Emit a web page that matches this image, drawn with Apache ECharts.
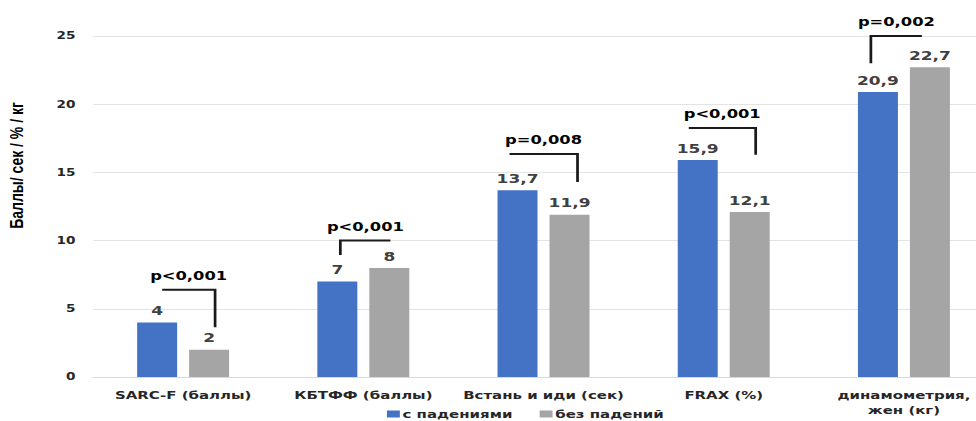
<!DOCTYPE html>
<html>
<head>
<meta charset="utf-8">
<script src="https://cdn.jsdelivr.net/npm/echarts@6/dist/echarts.min.js"></script>
<style>
  html, body { margin: 0; padding: 0; background: #fff; overflow: hidden; }
  #wrap { width: 976px; height: 421px; overflow: hidden; }
  /* the chart is laid out narrow and stretched horizontally */
  #chart { width: 731px; height: 421px; transform: scaleX(1.36); transform-origin: 0 0; }
</style>
</head>
<body>
<div id="wrap"><div id="chart"></div></div>
<script>
// Measures and group means
const categories = ['SARC-F (баллы)', 'КБТФФ (баллы)', 'Встань и иди (сек)', 'FRAX (%)', 'динамометрия,\nжен (кг)'];
const withFalls = [4, 7, 13.7, 15.9, 20.9];
const withoutFalls = [2, 8, 11.9, 12.1, 22.7];
const seriesNames = ['с падениями', 'без падений'];
const yTicks = { min: 0, max: 25, interval: 5 };

// Significance brackets: p label, level of the horizontal line, end of the tick, tick side
const pLabels = ['p<0,001', 'p<0,001', 'p=0,008', 'p<0,001', 'p=0,002'];
const bracketLevel = [6.4, 10.0, 16.35, 18.25, 25.0];
const bracketEnd = [3.65, 8.95, 14.3, 16.3, 23.0];
const tickSide = ['right', 'left', 'right', 'right', 'left'];

// horizontal extent of each bracket relative to the category centre (px, before stretching)
const bracketSpan = [[-15.4, 23.5], [-16.9, 19.9], [-25, 25], [-25.7, 23.5], [-24.3, 13.2]];

const fmt = v => String(v).replace('.', ',');
const FONT = '"DejaVu Sans", Verdana, sans-serif';

const chart = echarts.init(document.getElementById('chart'), null, { renderer: 'svg' });

const bracketData = categories.map((c, i) => [i, bracketLevel[i], bracketEnd[i]]);

const valueLabel = {
  show: true, position: 'top', distance: 5,
  formatter: p => fmt(p.value),
  fontFamily: FONT, fontWeight: 'bold', fontSize: 12.5, color: '#404040'
};

chart.setOption({
  animation: false,
  textStyle: { fontFamily: FONT },
  grid: { left: 68.4, top: 36, width: 662.5, height: 341 },
  legend: {
    data: seriesNames,
    top: 408,
    left: 284.5,
    padding: 0,
    icon: 'rect',
    itemWidth: 9.5,
    itemHeight: 7,
    itemGap: 20,
    textStyle: { fontFamily: FONT, fontWeight: 'bold', fontSize: 11, lineHeight: 12, color: '#262626', padding: [0, 0, 0, -3] }
  },
  xAxis: {
    type: 'category',
    data: categories,
    axisLine: { lineStyle: { color: '#d9d9d9', width: 1 } },
    axisTick: { show: false },
    axisLabel: { fontFamily: FONT, fontWeight: 'bold', fontSize: 11, color: '#262626', margin: 11, lineHeight: 15, interval: 0 }
  },
  yAxis: {
    type: 'value',
    min: yTicks.min,
    max: yTicks.max,
    interval: yTicks.interval,
    axisLine: { show: false },
    axisTick: { show: false },
    splitLine: { lineStyle: { color: '#e3e3e3', width: 1 } },
    axisLabel: { fontFamily: FONT, fontWeight: 'bold', fontSize: 10, color: '#262626', margin: 13 }
  },
  graphic: [{
    type: 'text',
    x: 12.1,
    y: 165.5,
    rotation: Math.PI / 2,
    style: {
      text: 'Баллы/ сек / % / кг',
      font: 'bold 14px "Liberation Sans", Arial, sans-serif',
      fill: '#000',
      align: 'center',
      verticalAlign: 'middle'
    }
  }],
  series: [
    {
      name: seriesNames[0],
      type: 'bar',
      data: withFalls,
      barWidth: 29.4,
      barGap: '30%',
      itemStyle: { color: '#4472C4' },
      label: valueLabel
    },
    {
      name: seriesNames[1],
      type: 'bar',
      data: withoutFalls,
      barWidth: 29.4,
      itemStyle: { color: '#A5A5A5' },
      label: valueLabel
    },
    {
      name: 'brackets',
      type: 'custom',
      clip: false,
      silent: true,
      z: 10,
      encode: { x: 0, y: 1 },
      data: bracketData,
      renderItem: (params, api) => {
        const i = api.value(0);
        const top = api.coord([i, api.value(1)]);
        const end = api.coord([i, api.value(2)]);
        const [dl, dr] = bracketSpan[i];
        const xl = top[0] + dl, xr = top[0] + dr;
        const pts = tickSide[i] === 'right'
          ? [[xl, top[1]], [xr, top[1]], [xr, end[1]]]
          : [[xr, top[1]], [xl, top[1]], [xl, end[1]]];
        return {
          type: 'group',
          children: [
            { type: 'polyline', shape: { points: pts },
              style: { stroke: '#1a1a1a', lineWidth: 2, fill: null } },
            { type: 'text', x: (xl + xr) / 2, y: top[1] - 14,
              style: { text: pLabels[i], font: 'bold 12px "DejaVu Sans", Verdana, sans-serif', fill: '#000', align: 'center', verticalAlign: 'middle' } }
          ]
        };
      }
    }
  ]
});
</script>
</body>
</html>
